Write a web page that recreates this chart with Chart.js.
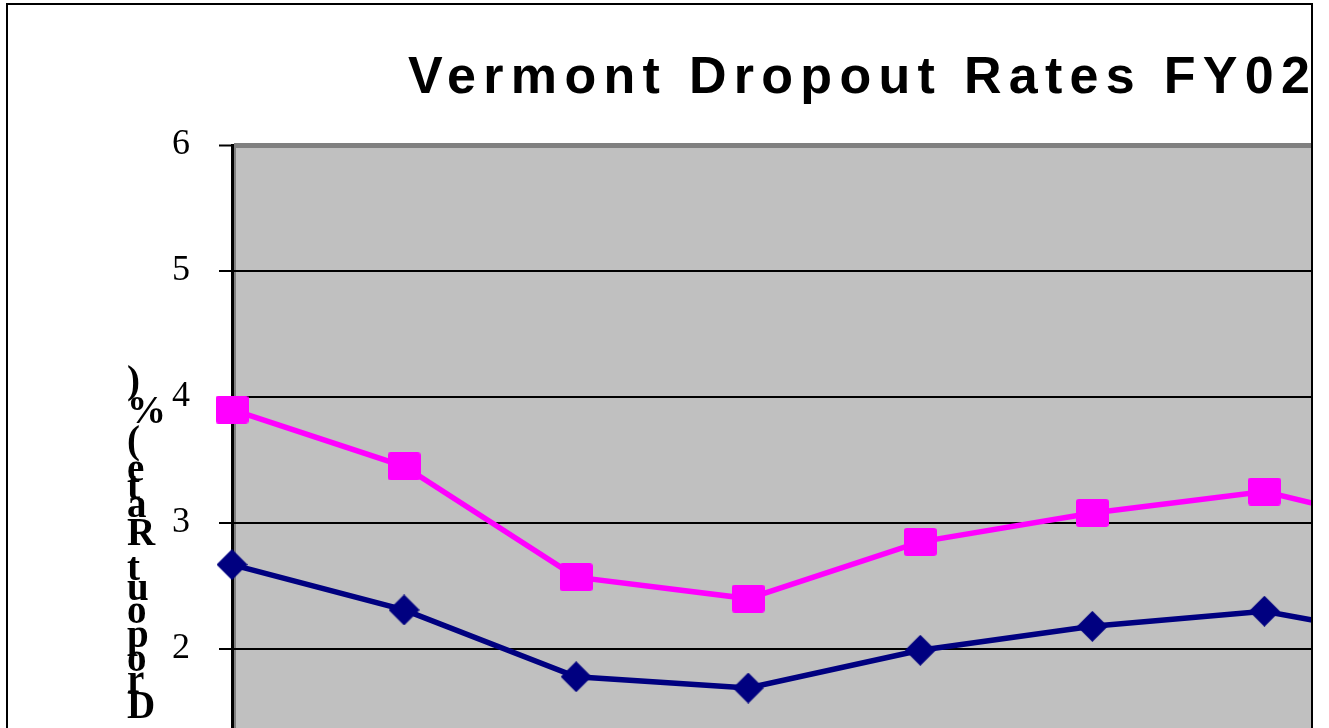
<!DOCTYPE html>
<html>
<head>
<meta charset="utf-8">
<script src="https://cdn.jsdelivr.net/npm/chart.js@4.4.1/dist/chart.umd.min.js"></script>
<style>
    html, body { margin: 0; padding: 0; background: #fff; }
    body { width: 1329px; height: 728px; overflow: hidden; position: relative; }
    #frame {
        position: absolute; left: 6px; top: 3px;
        width: 1303px; height: 760px;
        border: 2px solid #000; border-bottom: none;
        overflow: hidden;
    }
    #title {
        position: absolute; left: 400px; top: 44px;
        font: bold 52px "Liberation Sans", Arial, sans-serif;
        line-height: 52px; letter-spacing: 7.3px;
        white-space: nowrap; color: #000;
    }
    #wrap { position: absolute; left: 0; top: 0; width: 1449px; height: 1000px; }
</style>
</head>
<body>
<div id="frame">
    <div id="title">Vermont Dropout Rates FY02 - FY09</div>
    <div id="wrap"><canvas id="dropoutChart"></canvas></div>
</div>
<script>
const years = ['FY02', 'FY03', 'FY04', 'FY05', 'FY06', 'FY07', 'FY08', 'FY09'];
const grades912 = [3.9, 3.45, 2.57, 2.4, 2.85, 3.08, 3.25, 2.92];
const grades712 = [2.67, 2.31, 1.78, 1.69, 1.99, 2.18, 2.3, 2.05];
const yMin = 0;
const yMax = 6;
const yStep = 1;
const yTitle = 'Dropout Rate (%)';

// marker images: pink rounded square, navy diamond
function squareMarker() {
    const c = document.createElement('canvas');
    c.width = 33; c.height = 28;
    const g = c.getContext('2d');
    g.fillStyle = '#FF00FF';
    g.beginPath();
    g.roundRect(0, 0, 33, 28, 3);
    g.fill();
    return c;
}

function diamondMarker() {
    const c = document.createElement('canvas');
    c.width = 31; c.height = 31;
    const g = c.getContext('2d');
    g.fillStyle = '#000080';
    g.beginPath();
    g.moveTo(15.5, 0);
    g.lineTo(31, 15.5);
    g.lineTo(15.5, 31);
    g.lineTo(0, 15.5);
    g.closePath();
    g.fill();
    return c;
}

const plotBackground = {
    id: 'plotBackground',
    beforeDraw(chart) {
        const { ctx, chartArea: a } = chart;
        ctx.save();
        ctx.fillStyle = '#C0C0C0';
        ctx.fillRect(a.left, a.top, a.right - a.left, a.bottom - a.top);
        ctx.fillStyle = '#808080';
        ctx.fillRect(a.left, a.top, 4, a.bottom - a.top);
        ctx.restore();
    }
};

// the axis title comes out as upright letters stacked bottom to top
const stackedTitle = {
    id: 'stackedTitle',
    afterDraw(chart) {
        const ctx = chart.ctx;
        ctx.save();
        ctx.font = 'bold 39px "Liberation Serif", "Times New Roman", serif';
        ctx.fillStyle = '#000';
        ctx.textAlign = 'left';
        ctx.textBaseline = 'middle';
        let y = 703;
        let prev = 0;
        for (const ch of yTitle) {
            const w = ctx.measureText(ch).width * 1.15;
            if (prev === 0) y = 703;
            else y -= (prev + w) / 2;
            if (ch !== ' ') ctx.fillText(ch, 119, y);
            prev = w;
        }
        ctx.restore();
    }
};

const ctx = document.getElementById('dropoutChart').getContext('2d');
const dropoutChart = new Chart(ctx, {
    type: 'line',
    data: {
        labels: years,
        datasets: [{
            label: 'Grades 9-12',
            data: grades912,
            borderColor: '#FF00FF',
            backgroundColor: '#FF00FF',
            borderWidth: 5.5,
            pointStyle: squareMarker(),
            pointRadius: 15,
            clip: false,
            tension: 0
        }, {
            label: 'Grades 7-12',
            data: grades712,
            borderColor: '#000080',
            backgroundColor: '#000080',
            borderWidth: 5.5,
            pointStyle: diamondMarker(),
            pointRadius: 15,
            clip: false,
            tension: 0
        }]
    },
    options: {
        responsive: true,
        maintainAspectRatio: false,
        animation: false,
        layout: { padding: { left: 0, top: 140, right: 8, bottom: 40 } },
        plugins: {
            legend: { display: false },
            title: { display: false },
            tooltip: { enabled: false }
        },
        scales: {
            x: {
                offset: false,
                grid: { display: false },
                border: { display: false },
                ticks: { font: { family: 'Liberation Serif', size: 30 }, color: '#000' },
                afterFit(scale) {
                    scale.height = 64;
                    scale.paddingLeft = 0;
                    scale.paddingRight = 0;
                }
            },
            y: {
                min: yMin,
                max: yMax,
                ticks: {
                    stepSize: yStep,
                    padding: 29,
                    color: '#000',
                    font: { family: 'Liberation Serif', size: 36 }
                },
                grid: {
                    color: c => (c.tick && c.tick.value === yMax) ? '#808080' : '#000',
                    lineWidth: c => (c.tick && c.tick.value === yMax) ? 5 : 2,
                    tickColor: '#000',
                    tickWidth: 2,
                    tickLength: 13
                },
                border: { color: '#000', width: 3 },
                afterFit(scale) { scale.width = 224; }
            }
        }
    },
    plugins: [plotBackground, stackedTitle]
});
</script>
</body>
</html>
